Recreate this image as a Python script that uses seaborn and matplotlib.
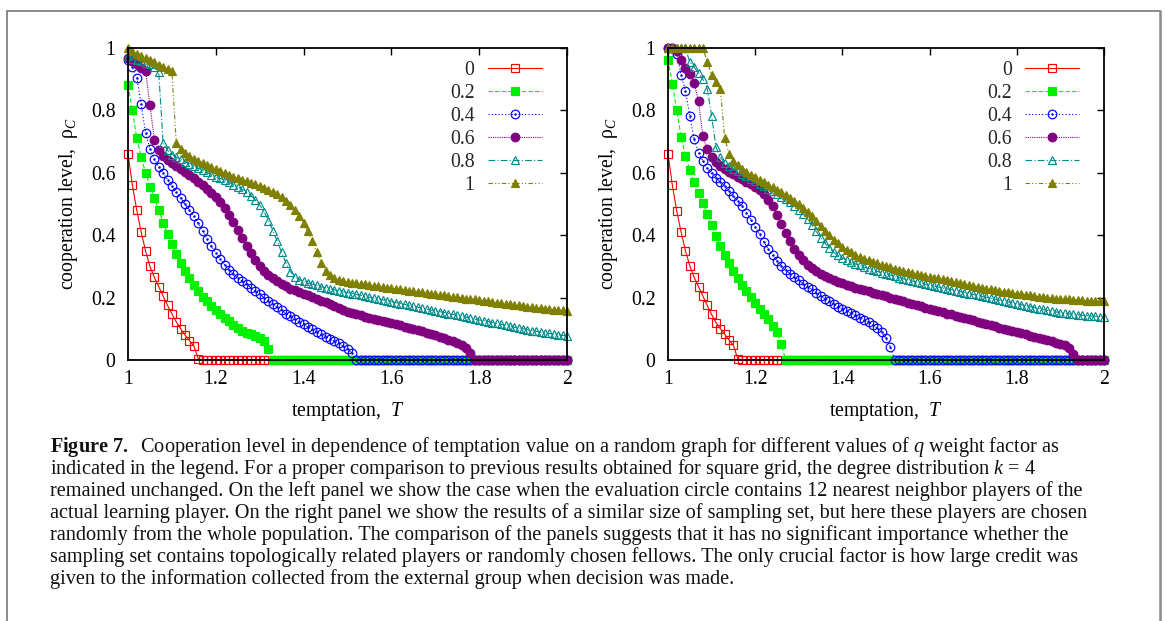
import numpy as np
import pandas as pd
import matplotlib
matplotlib.use("Agg")
import matplotlib.pyplot as plt
from matplotlib.lines import Line2D
from matplotlib.legend_handler import HandlerTuple
import seaborn as sns

# ---------------- data ----------------
T = np.round(np.linspace(1.0, 2.0, 101), 2)
q_labels = ["0", "0.2", "0.4", "0.6", "0.8", "1"]
x_ticks = [1.0, 1.2, 1.4, 1.6, 1.8, 2.0]
x_tick_labels = ["1", "1.2", "1.4", "1.6", "1.8", "2"]
y_ticks = [0.0, 0.2, 0.4, 0.6, 0.8, 1.0]
y_tick_labels = ["0", "0.2", "0.4", "0.6", "0.8", "1"]

# left panel (12 nearest neighbours)
left_q0 = [
    0.66, 0.56, 0.48, 0.41, 0.35, 0.30, 0.265, 0.235, 0.205, 0.175,
    0.148, 0.122, 0.10, 0.08, 0.062, 0.045, 0.004, 0, 0, 0,
    0, 0, 0, 0, 0, 0, 0, 0, 0, 0,
    0, 0, 0, 0, 0, 0, 0, 0, 0, 0,
    0, 0, 0, 0, 0, 0, 0, 0, 0, 0,
    0, 0, 0, 0, 0, 0, 0, 0, 0, 0,
    0, 0, 0, 0, 0, 0, 0, 0, 0, 0,
    0, 0, 0, 0, 0, 0, 0, 0, 0, 0,
    0, 0, 0, 0, 0, 0, 0, 0, 0, 0,
    0, 0, 0, 0, 0, 0, 0, 0, 0, 0,
    0]
left_q02 = [
    0.88, 0.80, 0.71, 0.65, 0.60, 0.556, 0.52, 0.48, 0.44, 0.405,
    0.372, 0.34, 0.31, 0.284, 0.262, 0.24, 0.22, 0.203, 0.188, 0.174,
    0.16, 0.147, 0.135, 0.124, 0.113, 0.103, 0.094, 0.088, 0.082, 0.076,
    0.07, 0.062, 0.035, 0, 0, 0, 0, 0, 0, 0,
    0, 0, 0, 0, 0, 0, 0, 0, 0, 0,
    0, 0, 0, 0, 0, 0, 0, 0, 0, 0,
    0, 0, 0, 0, 0, 0, 0, 0, 0, 0,
    0, 0, 0, 0, 0, 0, 0, 0, 0, 0,
    0, 0, 0, 0, 0, 0, 0, 0, 0, 0,
    0, 0, 0, 0, 0, 0, 0, 0, 0, 0,
    0]
left_q04 = [
    0.963, 0.94, 0.905, 0.82, 0.728, 0.677, 0.643, 0.62, 0.599, 0.578,
    0.557, 0.537, 0.518, 0.499, 0.48, 0.46, 0.438, 0.413, 0.388, 0.365,
    0.344, 0.323, 0.305, 0.29, 0.276, 0.264, 0.253, 0.242, 0.232, 0.221,
    0.211, 0.2, 0.19, 0.179, 0.169, 0.159, 0.149, 0.14, 0.131, 0.122,
    0.114, 0.106, 0.098, 0.09, 0.082, 0.075, 0.068, 0.061, 0.054, 0.045,
    0.035, 0.022, 0, 0, 0, 0, 0, 0, 0, 0,
    0, 0, 0, 0, 0, 0, 0, 0, 0, 0,
    0, 0, 0, 0, 0, 0, 0, 0, 0, 0,
    0, 0, 0, 0, 0, 0, 0, 0, 0, 0,
    0, 0, 0, 0, 0, 0, 0, 0, 0, 0,
    0]
left_q06 = [
    0.968, 0.958, 0.948, 0.937, 0.925, 0.818, 0.706, 0.672, 0.655, 0.642,
    0.632, 0.622, 0.612, 0.602, 0.592, 0.582, 0.572, 0.56, 0.548, 0.535,
    0.521, 0.505, 0.487, 0.466, 0.443, 0.418, 0.392, 0.366, 0.342, 0.32,
    0.302, 0.286, 0.273, 0.262, 0.252, 0.244, 0.236, 0.229, 0.223, 0.218,
    0.213, 0.207, 0.202, 0.196, 0.19, 0.185, 0.179, 0.173, 0.167, 0.161,
    0.155, 0.151, 0.147, 0.143, 0.139, 0.136, 0.132, 0.128, 0.125, 0.121,
    0.118, 0.114, 0.111, 0.107, 0.103, 0.099, 0.096, 0.092, 0.088, 0.084,
    0.08, 0.075, 0.07, 0.065, 0.06, 0.054, 0.047, 0.038, 0.022, 0,
    0, 0, 0, 0, 0, 0, 0, 0, 0, 0,
    0, 0, 0, 0, 0, 0, 0, 0, 0, 0,
    0]
left_q08 = [
    0.973, 0.966, 0.961, 0.957, 0.953, 0.948, 0.94, 0.922, 0.695, 0.672,
    0.658, 0.65, 0.643, 0.636, 0.629, 0.622, 0.615, 0.608, 0.601, 0.594,
    0.588, 0.582, 0.576, 0.569, 0.562, 0.555, 0.547, 0.538, 0.527, 0.513,
    0.497, 0.475, 0.447, 0.415, 0.38, 0.345, 0.31, 0.283, 0.267, 0.258,
    0.252, 0.247, 0.243, 0.239, 0.235, 0.231, 0.228, 0.225, 0.222, 0.219,
    0.216, 0.213, 0.21, 0.207, 0.204, 0.201, 0.198, 0.195, 0.193, 0.19,
    0.187, 0.184, 0.181, 0.178, 0.175, 0.172, 0.169, 0.166, 0.163, 0.16,
    0.158, 0.155, 0.152, 0.149, 0.146, 0.143, 0.14, 0.137, 0.134, 0.131,
    0.128, 0.126, 0.123, 0.12, 0.117, 0.114, 0.111, 0.108, 0.105, 0.103,
    0.1, 0.097, 0.094, 0.092, 0.089, 0.087, 0.085, 0.083, 0.081, 0.079,
    0.077]
left_q1 = [
    1.0, 0.99, 0.982, 0.975, 0.968, 0.961, 0.954, 0.947, 0.94, 0.932,
    0.925, 0.695, 0.676, 0.663, 0.653, 0.645, 0.638, 0.631, 0.624, 0.617,
    0.611, 0.605, 0.599, 0.593, 0.588, 0.583, 0.578, 0.573, 0.568, 0.563,
    0.558, 0.552, 0.546, 0.539, 0.531, 0.522, 0.511, 0.498, 0.482, 0.462,
    0.44, 0.412, 0.38, 0.345, 0.31, 0.285, 0.271, 0.263, 0.258, 0.254,
    0.25, 0.248, 0.246, 0.244, 0.242, 0.24, 0.238, 0.236, 0.234, 0.232,
    0.23, 0.228, 0.226, 0.224, 0.222, 0.221, 0.219, 0.217, 0.215, 0.213,
    0.211, 0.209, 0.207, 0.205, 0.203, 0.201, 0.199, 0.197, 0.196, 0.194,
    0.192, 0.19, 0.188, 0.186, 0.184, 0.182, 0.18, 0.178, 0.176, 0.175,
    0.173, 0.171, 0.169, 0.167, 0.166, 0.164, 0.163, 0.161, 0.16, 0.159,
    0.158]

# right panel (randomly chosen sampling set)
right_q0 = [
    0.66, 0.56, 0.478, 0.41, 0.35, 0.302, 0.265, 0.235, 0.205, 0.175,
    0.146, 0.12, 0.10, 0.083, 0.064, 0.047, 0.004, 0, 0, 0,
    0, 0, 0, 0, 0, 0, 0, 0, 0, 0,
    0, 0, 0, 0, 0, 0, 0, 0, 0, 0,
    0, 0, 0, 0, 0, 0, 0, 0, 0, 0,
    0, 0, 0, 0, 0, 0, 0, 0, 0, 0,
    0, 0, 0, 0, 0, 0, 0, 0, 0, 0,
    0, 0, 0, 0, 0, 0, 0, 0, 0, 0,
    0, 0, 0, 0, 0, 0, 0, 0, 0, 0,
    0, 0, 0, 0, 0, 0, 0, 0, 0, 0,
    0]
right_q02 = [
    0.963, 0.885, 0.80, 0.716, 0.653, 0.61, 0.569, 0.534, 0.503, 0.468,
    0.432, 0.397, 0.365, 0.337, 0.31, 0.285, 0.262, 0.24, 0.22, 0.202,
    0.183, 0.165, 0.148, 0.13, 0.11, 0.09, 0.05, 0, 0, 0,
    0, 0, 0, 0, 0, 0, 0, 0, 0, 0,
    0, 0, 0, 0, 0, 0, 0, 0, 0, 0,
    0, 0, 0, 0, 0, 0, 0, 0, 0, 0,
    0, 0, 0, 0, 0, 0, 0, 0, 0, 0,
    0, 0, 0, 0, 0, 0, 0, 0, 0, 0,
    0, 0, 0, 0, 0, 0, 0, 0, 0, 0,
    0, 0, 0, 0, 0, 0, 0, 0, 0, 0,
    0]
right_q04 = [
    1.0, 1.0, 0.98, 0.915, 0.863, 0.783, 0.707, 0.665, 0.638, 0.614,
    0.598, 0.584, 0.571, 0.557, 0.542, 0.527, 0.51, 0.492, 0.472, 0.45,
    0.427, 0.403, 0.379, 0.356, 0.335, 0.317, 0.302, 0.289, 0.277, 0.266,
    0.255, 0.245, 0.235, 0.226, 0.216, 0.206, 0.197, 0.188, 0.179, 0.171,
    0.164, 0.157, 0.15, 0.143, 0.136, 0.129, 0.121, 0.112, 0.102, 0.089,
    0.07, 0.043, 0, 0, 0, 0, 0, 0, 0, 0,
    0, 0, 0, 0, 0, 0, 0, 0, 0, 0,
    0, 0, 0, 0, 0, 0, 0, 0, 0, 0,
    0, 0, 0, 0, 0, 0, 0, 0, 0, 0,
    0, 0, 0, 0, 0, 0, 0, 0, 0, 0,
    0]
right_q06 = [
    1.0, 1.0, 0.99, 0.962, 0.936, 0.918, 0.888, 0.83, 0.717, 0.675,
    0.652, 0.636, 0.623, 0.612, 0.603, 0.595, 0.587, 0.579, 0.571, 0.563,
    0.555, 0.545, 0.532, 0.514, 0.492, 0.465, 0.437, 0.407, 0.38, 0.356,
    0.336, 0.319, 0.305, 0.294, 0.285, 0.277, 0.27, 0.263, 0.257, 0.251,
    0.246, 0.241, 0.237, 0.232, 0.228, 0.224, 0.22, 0.216, 0.212, 0.208,
    0.204, 0.2, 0.196, 0.192, 0.188, 0.184, 0.18, 0.176, 0.172, 0.168,
    0.165, 0.161, 0.157, 0.153, 0.149, 0.146, 0.142, 0.138, 0.134, 0.13,
    0.127, 0.123, 0.119, 0.115, 0.112, 0.108, 0.104, 0.1, 0.097, 0.093,
    0.09, 0.086, 0.082, 0.078, 0.075, 0.071, 0.067, 0.063, 0.06, 0.056,
    0.052, 0.047, 0.04, 0.02, 0, 0, 0, 0, 0, 0,
    0]
right_q08 = [
    1.0, 1.0, 1.0, 1.0, 1.0, 0.955, 0.938, 0.92, 0.9, 0.87,
    0.783, 0.683, 0.65, 0.633, 0.622, 0.613, 0.605, 0.597, 0.589, 0.581,
    0.573, 0.565, 0.557, 0.549, 0.541, 0.533, 0.524, 0.515, 0.505, 0.494,
    0.482, 0.468, 0.452, 0.433, 0.412, 0.392, 0.374, 0.358, 0.345, 0.335,
    0.327, 0.32, 0.314, 0.308, 0.303, 0.298, 0.293, 0.288, 0.284, 0.28,
    0.276, 0.272, 0.268, 0.264, 0.26, 0.257, 0.253, 0.25, 0.247, 0.243,
    0.24, 0.237, 0.234, 0.231, 0.228, 0.225, 0.222, 0.219, 0.216, 0.213,
    0.21, 0.207, 0.204, 0.201, 0.198, 0.195, 0.192, 0.189, 0.186, 0.183,
    0.18, 0.177, 0.174, 0.171, 0.168, 0.165, 0.162, 0.159, 0.157, 0.154,
    0.152, 0.15, 0.148, 0.146, 0.145, 0.143, 0.142, 0.141, 0.14, 0.139,
    0.138]
right_q1 = [
    1.0, 1.0, 1.0, 1.0, 1.0, 1.0, 1.0, 1.0, 1.0, 0.955,
    0.915, 0.89, 0.868, 0.712, 0.66, 0.638, 0.624, 0.613, 0.603, 0.594,
    0.586, 0.578, 0.57, 0.562, 0.554, 0.546, 0.538, 0.529, 0.52, 0.51,
    0.499, 0.487, 0.474, 0.46, 0.445, 0.43, 0.415, 0.4, 0.386, 0.374,
    0.363, 0.353, 0.345, 0.338, 0.331, 0.325, 0.32, 0.315, 0.31, 0.305,
    0.301, 0.297, 0.293, 0.289, 0.286, 0.282, 0.279, 0.276, 0.273, 0.27,
    0.267, 0.264, 0.262, 0.259, 0.256, 0.253, 0.25, 0.247, 0.244, 0.241,
    0.238, 0.235, 0.232, 0.229, 0.227, 0.224, 0.222, 0.219, 0.217, 0.215,
    0.213, 0.211, 0.209, 0.207, 0.205, 0.203, 0.201, 0.2, 0.198, 0.197,
    0.196, 0.195, 0.194, 0.193, 0.192, 0.191, 0.19, 0.19, 0.189, 0.188,
    0.188]

left_series = [left_q0, left_q02, left_q04, left_q06, left_q08, left_q1]
right_series = [right_q0, right_q02, right_q04, right_q06, right_q08, right_q1]
for s in left_series + right_series:
    assert len(s) == len(T), len(s)

caption_lines = [
    r"$\mathbf{Figure\ 7.}$  Cooperation level in dependence of temptation value on a random graph for different values of $q$ weight factor as",
    r"indicated in the legend. For a proper comparison to previous results obtained for square grid, the degree distribution $k$ = 4",
    "remained unchanged. On the left panel we show the case when the evaluation circle contains 12 nearest neighbor players of the",
    "actual learning player. On the right panel we show the results of a similar size of sampling set, but here these players are chosen",
    "randomly from the whole population. The comparison of the panels suggests that it has no significant importance whether the",
    "sampling set contains topologically related players or randomly chosen fellows. The only crucial factor is how large credit was",
    "given to the information collected from the external group when decision was made.",
]

# ---------------- style ----------------
sns.set_theme(style="white")
plt.rcParams["font.family"] = ["Liberation Serif", "DejaVu Serif"]
plt.rcParams["mathtext.fontset"] = "custom"
plt.rcParams["mathtext.rm"] = "Liberation Serif"
plt.rcParams["mathtext.it"] = "Liberation Serif:italic"
plt.rcParams["mathtext.bf"] = "Liberation Serif:bold"

FS = 14.2
styles = [
    dict(color="#ff0000", marker="s", mfc="none", ms=5.6, ls="-"),
    dict(color="#00f000", marker="s", mfc="#00f000", ms=5.8, ls=(0, (4, 2))),
    dict(color="#0000ff", marker="o", mfc="none", ms=6.2, ls=(0, (1, 2))),
    dict(color="#800080", marker="o", mfc="#800080", ms=6.2, ls=(0, (1, 1))),
    dict(color="#008b8b", marker="^", mfc="none", ms=6.4, ls=(0, (6, 2, 1, 2))),
    dict(color="#808000", marker="^", mfc="#808000", ms=5.6, ls=(0, (4, 2, 1, 2, 1, 2))),
]

W, H = 1165, 621
fig = plt.figure(figsize=(W / 100, H / 100), dpi=100)
fig.patch.set_facecolor("white")
ax_l = fig.add_axes([128 / W, 1 - 360 / H, 439 / W, 312 / H])
ax_r = fig.add_axes([668 / W, 1 - 360 / H, 436 / W, 312 / H])


def draw_panel(ax, series):
    handles = []
    for vals, st, lab in zip(series, styles, q_labels):
        df = pd.DataFrame({"T": T, "rho": vals})
        sns.lineplot(data=df, x="T", y="rho", ax=ax, estimator=None, errorbar=None,
                     sort=False, legend=False, color=st["color"], linestyle=st["ls"],
                     linewidth=0.8, marker=st["marker"], markersize=st["ms"],
                     markerfacecolor=st["mfc"], markeredgecolor=st["color"],
                     markeredgewidth=0.85, clip_on=False)
        h = ax.lines[-1]
        if lab == "0.4":
            sns.lineplot(data=df, x="T", y="rho", ax=ax, estimator=None, errorbar=None,
                         sort=False, legend=False, color=st["color"], linestyle="none",
                         marker="o", markersize=1.4, markerfacecolor=st["color"],
                         markeredgecolor=st["color"], markeredgewidth=0.3, clip_on=False)
            h = (h, ax.lines[-1])
        handles.append(h)

    ax.set_xlim(1, 2)
    ax.set_ylim(0, 1)
    ax.set_xticks(x_ticks)
    ax.set_xticklabels(x_tick_labels)
    ax.set_yticks(y_ticks)
    ax.set_yticklabels(y_tick_labels)
    ax.tick_params(direction="in", top=True, right=True, length=5, width=1.0,
                   labelsize=FS, colors="black")
    ax.tick_params(axis="x", pad=7)
    ax.tick_params(axis="y", pad=9)
    for sp in ax.spines.values():
        sp.set_linewidth(1.3)
        sp.set_color("black")
    ax.set_xlabel("temptation,  $T$", fontsize=FS, labelpad=8, color="black")
    ax.set_ylabel("cooperation level,  ρ$_C$", fontsize=FS, labelpad=8, color="black")
    ax.legend(handles, q_labels, loc="upper right", bbox_to_anchor=(0.943, 0.958),
              frameon=False, markerfirst=False, handlelength=2.75, handletextpad=0.67,
              labelspacing=0.2, borderpad=0, borderaxespad=0, numpoints=1,
              fontsize=FS, handler_map={tuple: HandlerTuple(ndivide=1)})


draw_panel(ax_l, left_series)
draw_panel(ax_r, right_series)

# frame around the figure block
border = dict(color="#8a8a8a", transform=fig.transFigure)
fig.add_artist(Line2D([7 / W, 1160 / W], [1 - 11 / H, 1 - 11 / H], lw=1.4, **border))
fig.add_artist(Line2D([7 / W, 7 / W], [0, 1 - 11 / H], lw=1.4, **border))
fig.add_artist(Line2D([1160 / W, 1160 / W], [0, 1 - 11 / H], lw=1.8, **border))

# caption
for i, line in enumerate(caption_lines):
    fig.text(50 / W, 1 - (452 + 22 * i) / H, line, fontsize=14.6, ha="left",
             va="baseline", color="#111111")

fig.savefig("out.png", dpi=100, facecolor="white")
